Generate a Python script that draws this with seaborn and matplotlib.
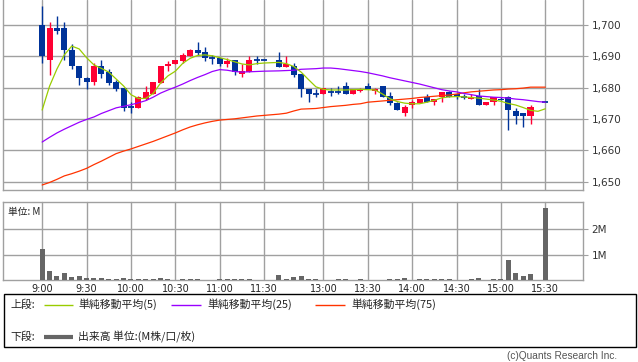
import numpy as np
import pandas as pd
import matplotlib
matplotlib.use("Agg")
import matplotlib.pyplot as plt
from matplotlib.patches import Rectangle
from matplotlib.lines import Line2D
import seaborn as sns

# ---------------- data ----------------
times = ["9:00","9:05","9:10","9:15","9:20","9:25","9:30","9:35","9:40","9:45","9:50","9:55",
         "10:00","10:05","10:10","10:15","10:20","10:25","10:30","10:35","10:40","10:45","10:50","10:55",
         "11:00","11:05","11:10","11:15","11:20","11:25","11:30",
         "12:30","12:35","12:40","12:45","12:50","12:55",
         "13:00","13:05","13:10","13:15","13:20","13:25","13:30","13:35","13:40","13:45","13:50","13:55",
         "14:00","14:05","14:10","14:15","14:20","14:25","14:30","14:35","14:40","14:45","14:50","14:55",
         "15:00","15:05","15:10","15:15","15:20","15:25","15:30"]
nan = np.nan
open_ = [1700,1689,1699,1699,1692,1687,1683,1682,1687,1685,1682,1680,
         1674,1673.5,1676.5,1678,1681.5,1687,1687.5,1688.5,1690,1692,1691.5,1689.5,
         1689.5,1687.5,1689,1684.5,1685,1689,1689,
         1689,1686.5,1687,1684.5,1679.5,1678,
         1678,1678.5,1678.5,1680.5,1678,1679,1680.5,1679,1680.5,1677.5,1675,1672,
         1674.5,1675,1677,1675.5,1677,1678.5,1678,1677,1676.5,1677.5,1674.5,1675.5,
         1676.5,1677,1672.5,1672,1671,nan,1675.5]
high = [1706,1701,1703,1701,1694,1687,1683.5,1688,1689,1686,1682.5,1680,
        1675.5,1677.5,1680.5,1682,1687,1688.5,1689,1691,1692.5,1694.5,1693,1690.5,
        1689.5,1689.5,1689,1687.5,1690,1690,1689,
        1691.5,1690,1688,1684.5,1679.5,1679.5,
        1680,1680,1680.5,1682,1679.5,1680,1681.5,1680,1680.5,1678.5,1675.5,1674.5,
        1676,1676.5,1678,1676.5,1678.5,1679,1678,1678,1678,1679.5,1675.5,1677,
        1677,1677.5,1673.5,1672,1674.5,nan,1675.5]
low = [1688,1684,1697,1689,1686,1681,1679.5,1681,1683,1681,1679,1672.5,
       1672,1673.5,1676,1678,1681.5,1685.5,1687.5,1688,1690,1690.5,1688.5,1687.5,
       1687,1686.5,1684,1683.5,1685,1687.5,1689,
       1686.5,1686.5,1683.5,1677,1675.5,1677,
       1678,1677.5,1678,1678,1678,1678.5,1679.5,1678,1677,1674.5,1673,1671,
       1673.5,1675,1675.5,1674.5,1675.5,1677,1676.5,1676.5,1676.5,1674.5,1674.5,1674.5,
       1676,1666.5,1668.5,1667.5,1668.5,nan,1675.5]
close = [1690,1699,1698,1692,1687,1683,1682,1687,1684.5,1681.5,1679.5,1673.5,
         1674,1677,1678.5,1682,1687,1687.5,1689,1690.5,1692,1691,1689.5,1689.5,
         1687.5,1688.5,1685,1685.5,1689,1689,1689,
         1686.5,1687.5,1684,1679.5,1678,1678,
         1680,1678.5,1678.5,1678,1679.5,1679.5,1679.5,1679.5,1677,1675,1673,1674,
         1675.5,1676.5,1675.5,1676.5,1678.5,1677,1677,1677,1677,1674.5,1675.5,1677,
         1676,1673,1671,1671,1674,nan,1675.5]
volume_m = [1.20,0.36,0.17,0.28,0.13,0.15,0.09,0.09,0.09,0.05,0.05,0.09,
            0.05,0.05,0.05,0.05,0.09,0.05,0.01,0.05,0.05,0.05,0.01,0.01,
            0.05,0.05,0.05,0.05,0.05,0.01,0.01,
            0.19,0.05,0.12,0.17,0.05,0.05,
            0.01,0.01,0.05,0.05,0.01,0.05,0.01,0.01,0.01,0.05,0.05,0.09,
            0.01,0.05,0.05,0.05,0.05,0.05,0.01,0.01,0.05,0.09,0.01,0.05,
            0.05,0.78,0.28,0.17,0.24,0.0,2.83]
ma5 = [1672.9,1680.5,1686.0,1690.5,1693.3,1692.4,1689.6,1687.3,1686.2,1685.0,1682.8,1680.6,
       1677.8,1676.6,1676.6,1678.2,1681.5,1683.8,1685.3,1687.8,1689.4,1690.3,1690.5,1690.2,
       1689.6,1689.0,1688.3,1687.6,1687.3,1687.7,1687.9,
       1688.1,1687.7,1686.8,1685.0,1682.6,1680.3,
       1679.5,1679.3,1679.3,1679.3,1679.4,1679.5,1679.4,1679.3,1678.0,1676.5,1675.6,1675.1,
       1674.9,1674.9,1675.4,1676.0,1676.8,1677.1,1677.2,1677.1,1676.9,1676.7,1676.4,1676.1,
       1675.7,1675.0,1674.5,1673.7,1672.8,1672.5,1673.3]
ma25 = [1662.7,1664.2,1665.6,1666.8,1667.9,1669.0,1669.9,1670.7,1671.8,1672.7,1673.6,1674.1,
        1674.6,1675.2,1675.9,1677.0,1678.3,1679.3,1680.2,1681.2,1682.3,1683.3,1684.2,1685.2,
        1685.8,1685.6,1685.2,1685.0,1685.1,1685.2,1685.3,
        1685.4,1685.5,1685.6,1685.9,1686.0,1686.1,
        1686.3,1686.3,1686.1,1685.8,1685.5,1685.2,1684.8,1684.3,1683.8,1683.2,1682.7,1682.2,
        1681.7,1681.2,1680.6,1680.0,1679.4,1679.0,1678.7,1678.2,1677.8,1677.4,1677.2,1677.0,
        1676.9,1676.7,1676.4,1676.2,1675.9,1675.6,1675.4]
ma75 = [1649.0,1649.8,1650.8,1651.9,1652.6,1653.4,1654.3,1655.5,1656.6,1657.8,1659.0,1659.8,
        1660.5,1661.3,1662.1,1662.9,1663.8,1664.7,1665.6,1666.6,1667.5,1668.2,1668.8,1669.3,
        1669.7,1669.9,1670.1,1670.4,1670.7,1671.0,1671.2,
        1671.6,1671.9,1672.6,1673.2,1673.3,1673.4,
        1673.7,1674.0,1674.2,1674.4,1674.7,1674.9,1675.4,1675.6,1675.8,1676.0,1676.2,1676.4,
        1676.6,1676.9,1677.1,1677.3,1677.5,1677.7,1678.0,1678.4,1678.7,1678.9,1679.1,1679.3,
        1679.4,1679.6,1679.7,1679.9,1680.2,1680.2,1680.2]
tick_labels = ["9:00","9:30","10:00","10:30","11:00","11:30","13:00","13:30","14:00","14:30","15:00","15:30"]
price_ticks = [1650, 1660, 1670, 1680, 1690, 1700]
vol_ticks = [1, 2]

# ---------------- helpers ----------------
def slot(t):
    h, m = map(int, t.split(":"))
    mins = h * 60 + m
    if mins < 12 * 60:
        return (mins - 540) / 5
    return (mins - 750) / 5 + 32

df = pd.DataFrame({"time": times, "open": open_, "high": high, "low": low, "close": close,
                   "vol": volume_m, "ma5": ma5, "ma25": ma25, "ma75": ma75})
df["x"] = df["time"].map(slot)

RED = "#ff0033"
BLUE = "#003399"
GRID = "#a0a0a0"

sns.set_theme(style="white")
plt.rcParams["font.family"] = ["DejaVu Sans", "Noto Sans CJK JP"]

fig = plt.figure(figsize=(6.38, 3.62), dpi=100)
ax = fig.add_axes([3.3/638, 1 - 190/362, (582.7-3.3)/638, 190/362])
axv = fig.add_axes([3.3/638, 1 - 280.3/362, (582.7-3.3)/638, (280.3-201.5)/362])

xlim = (-5.25, 73.05)
tick_pos = [slot(t) for t in tick_labels]

for a in (ax, axv):
    a.set_xlim(*xlim)
    a.set_xticks(tick_pos)
    a.grid(False)
    for xp in tick_pos:
        a.axvline(xp, color=GRID, lw=1.0, zorder=0)
    for s in a.spines.values():
        s.set_color(GRID)
        s.set_linewidth(1.0)
    a.yaxis.tick_right()
    a.tick_params(axis="y", which="both", right=True, left=False, length=3.5,
                  width=0.8, color=GRID, labelsize=7.5, labelcolor="#333333", pad=3)

# ---------------- price panel ----------------
ax.spines["top"].set_visible(False)
ax.set_ylim(1647.4, 1708.0)
ax.set_yticks(price_ticks)
ax.set_yticklabels([f"{v:,}" for v in price_ticks])
for yv in price_ticks:
    ax.axhline(yv, color=GRID, lw=1.0, zorder=0)
ax.set_xticklabels([])
ax.tick_params(axis="x", length=0)

c = df.dropna(subset=["open"])
up = c["close"] > c["open"]
cols = np.where(up, RED, BLUE)
ax.vlines(c["x"], c["low"], c["high"], colors=cols, lw=1.0, zorder=3)
body_lo = np.minimum(c["open"], c["close"])
body_h = np.abs(c["close"] - c["open"])
ax.bar(c["x"], body_h, bottom=body_lo, width=0.82, color=cols, lw=0, zorder=4)
doji = body_h == 0
ax.hlines(c.loc[doji, "close"], c.loc[doji, "x"] - 0.42, c.loc[doji, "x"] + 0.42,
          colors=BLUE, lw=1.3, zorder=4)

sns.lineplot(data=df, x="x", y="ma75", ax=ax, color="#ff3300", lw=0.9, zorder=5)
sns.lineplot(data=df, x="x", y="ma25", ax=ax, color="#9900ff", lw=0.9, zorder=5)
sns.lineplot(data=df, x="x", y="ma5", ax=ax, color="#99cc00", lw=0.9, zorder=6)
ax.set_xlabel("")
ax.set_ylabel("")
ax.set_xlim(*xlim)

# ---------------- volume panel ----------------
sns.barplot(data=df, x="x", y="vol", ax=axv, native_scale=True, color="#666666",
            saturation=1, width=0.68, errorbar=None, linewidth=0, zorder=3)
axv.set_xlim(*xlim)
axv.set_ylim(0, 3.07)
axv.set_yticks(vol_ticks)
axv.set_yticklabels([f"{v}M" for v in vol_ticks])
for yv in vol_ticks:
    axv.axhline(yv, color=GRID, lw=1.0, zorder=0)
axv.set_xticks(tick_pos)
axv.set_xticklabels(tick_labels)
axv.tick_params(axis="x", length=0, labelsize=7, labelcolor="#222222", pad=2.5)
axv.set_xlabel("")
axv.set_ylabel("")
axv.text(0.008, 0.93, "単位: M", transform=axv.transAxes, fontsize=7, va="top", ha="left",
         color="#222222", family=["Noto Sans CJK JP", "DejaVu Sans"])

# ---------------- legend box ----------------
W, H = 638.0, 362.0
fig.add_artist(Rectangle((3.5/W, 1 - 347/H), (635.5-3.5)/W, (347-294)/H,
                         transform=fig.transFigure, fill=False, ec="#000000", lw=1.0))
cjk = ["Noto Sans CJK JP", "DejaVu Sans"]
def ftext(x, y, s, **kw):
    fig.text(x / W, 1 - y / H, s, fontsize=7.8, va="center", ha="left", color="#222222",
             family=cjk, **kw)
def fline(x0, x1, y, color, lw):
    fig.add_artist(Line2D([x0 / W, x1 / W], [1 - y / H, 1 - y / H], color=color, lw=lw,
                          transform=fig.transFigure, solid_capstyle="butt"))

row1, row2 = 304.5, 337
ftext(10, row1, "上段:")
fline(43.5, 73, row1, "#99cc00", 1.0)
ftext(78, row1, "単純移動平均(5)")
fline(171, 201, row1, "#9900ff", 1.0)
ftext(207, row1, "単純移動平均(25)")
fline(315, 345, row1, "#ff3300", 1.0)
ftext(351, row1, "単純移動平均(75)")
ftext(10, row2, "下段:")
fline(43.5, 72.5, row2, "#666666", 3.0)
ftext(78, row2, "出来高 単位:(M株/口/枚)")

fig.text(617.5 / W, 1 - 356 / H, "(c)Quants Research Inc.", fontsize=7.3, ha="right",
         va="center", color="#555555", family=["Liberation Sans", "DejaVu Sans"])

fig.savefig("out.png", dpi=100, facecolor="white")
